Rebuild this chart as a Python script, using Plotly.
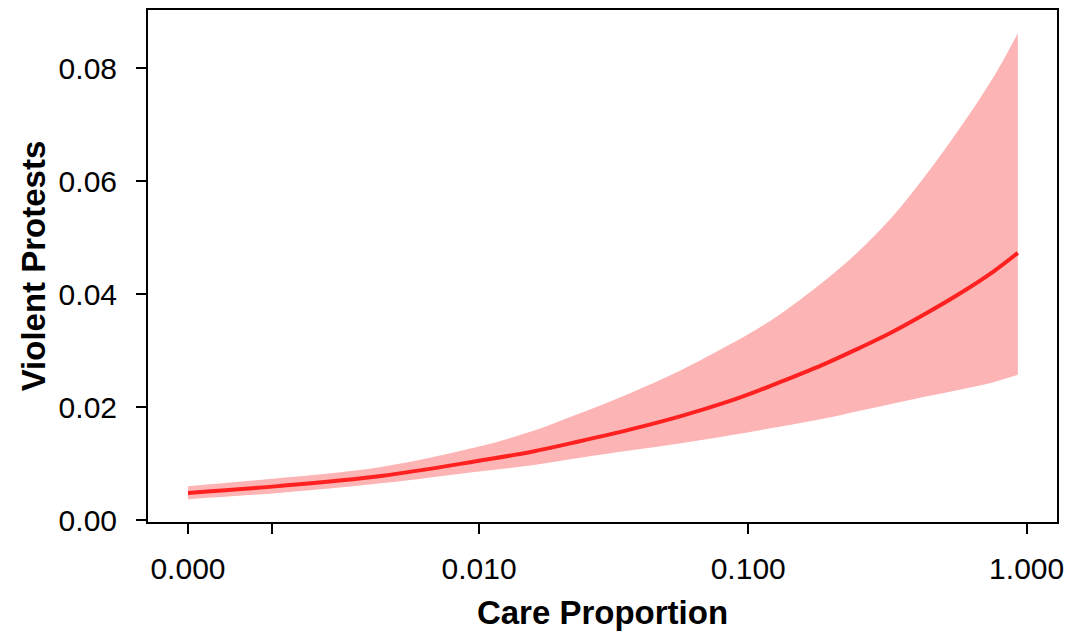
import plotly.graph_objects as go

# Data
care = [0, 0.0011, 0.0039, 0.010, 0.016, 0.024, 0.037, 0.057, 0.086, 0.11,
        0.13, 0.19, 0.25, 0.33, 0.44, 0.58, 0.76, 0.93]
mean = [0.0048, 0.0060, 0.0078, 0.0105, 0.0121, 0.0139, 0.0160, 0.0184, 0.0211, 0.0230,
        0.0244, 0.0277, 0.0304, 0.0333, 0.0367, 0.0402, 0.0440, 0.0473]
upper = [0.0060, 0.0074, 0.0094, 0.0130, 0.0157, 0.0188, 0.0224, 0.0265, 0.0311, 0.0341,
         0.0364, 0.0425, 0.0476, 0.0537, 0.0614, 0.0696, 0.0784, 0.0862]
lower = [0.0037, 0.0048, 0.0065, 0.0086, 0.0097, 0.0110, 0.0123, 0.0136, 0.0150, 0.0159,
         0.0165, 0.0180, 0.0193, 0.0206, 0.0219, 0.0231, 0.0244, 0.0257]

x_tick_values = [0.0, 0.001, 0.01, 0.1, 1.0]
x_tick_labels = ["0.000", "", "0.010", "0.100", "1.000"]
y_tick_values = [0.0, 0.02, 0.04, 0.06, 0.08]
y_tick_labels = ["0.00", "0.02", "0.04", "0.06", "0.08"]

OFFSET = 0.001  # axis is log10(care + 0.001)
xs = [c + OFFSET for c in care]

band_color = "rgb(253,180,180)"
line_color = "rgb(255,32,32)"
font_family = "Arial, Liberation Sans, Helvetica, sans-serif"

fig = go.Figure()
fig.add_trace(go.Scatter(x=xs, y=lower, mode="lines", line=dict(width=0, color=band_color, shape="spline"),
                         hoverinfo="skip", showlegend=False))
fig.add_trace(go.Scatter(x=xs, y=upper, mode="lines", line=dict(width=0, color=band_color, shape="spline"),
                         fill="tonexty", fillcolor=band_color, hoverinfo="skip", showlegend=False))
fig.add_trace(go.Scatter(x=xs, y=mean, mode="lines", line=dict(width=4, color=line_color, shape="spline"),
                         showlegend=False))

fig.update_layout(
    width=1068, height=636, autosize=False,
    margin=dict(l=148, r=11, t=10, b=114),
    paper_bgcolor="white", plot_bgcolor="white",
    font=dict(family=font_family, color="black"),
)
fig.update_xaxes(
    type="log", range=[-3.143, 0.109], automargin=False,
    tickvals=[v + OFFSET for v in x_tick_values], ticktext=x_tick_labels,
    ticks="outside", ticklen=10, tickwidth=1.5, tickcolor="black",
    showline=True, linecolor="black", linewidth=2, mirror=True,
    showgrid=False, zeroline=False,
    tickfont=dict(size=30, family=font_family, color="black"),
    ticklabelstandoff=9,
    title=dict(text="<b>Care Proportion</b>", font=dict(size=33, family=font_family, color="black"), standoff=17),
)
fig.update_yaxes(
    range=[-0.00035, 0.0903], automargin=False,
    tickvals=y_tick_values, ticktext=y_tick_labels,
    ticks="outside", ticklen=10, tickwidth=1.5, tickcolor="black",
    showline=True, linecolor="black", linewidth=2, mirror=True,
    showgrid=False, zeroline=False,
    tickfont=dict(size=30, family=font_family, color="black"),
    ticklabelstandoff=13,
    title=dict(text="<b>Violent Protests</b>", font=dict(size=33, family=font_family, color="black"), standoff=3),
)

fig.write_html("out.html",
               config={"displayModeBar": False},
               post_script="document.body.style.margin='0';document.body.style.overflow='hidden';")
